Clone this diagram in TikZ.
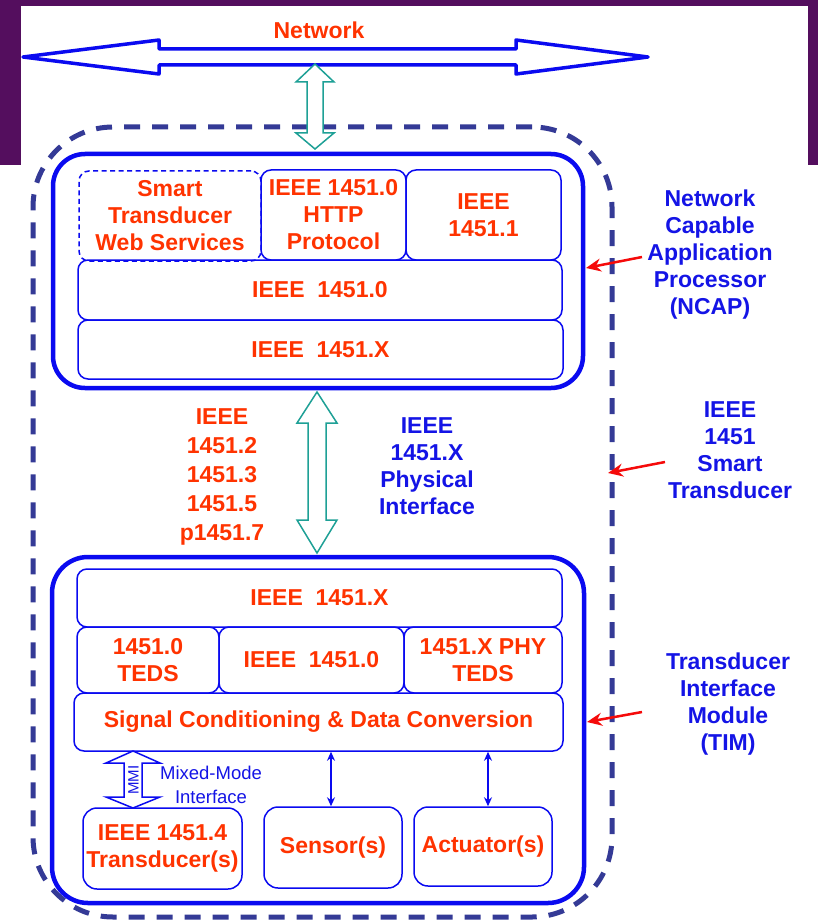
\documentclass[tikz,border=0pt]{standalone}
\usepackage{fontspec}
\setmainfont{Liberation Sans}
\usetikzlibrary{arrows.meta}
\definecolor{ored}{RGB}{255,51,0}
\definecolor{bblue}{RGB}{10,10,240}
\definecolor{tblue}{RGB}{20,20,230}
\definecolor{dblue}{RGB}{52,58,150}
\definecolor{tealc}{RGB}{30,160,150}
\definecolor{rarr}{RGB}{245,10,10}
\definecolor{purp}{RGB}{84,14,94}
\begin{document}
\begin{tikzpicture}[x=1pt,y=-1pt,
  bigfont/.style={font=\bfseries\fontsize{23}{27}\selectfont},
  lbl/.style={bigfont, text=ored, align=center, inner sep=0pt},
  blbl/.style={bigfont, text=tblue, align=center, inner sep=0pt},
  box/.style={draw=bblue, line width=1.5pt, rounded corners=10pt, inner sep=0pt,
              bigfont, text=ored, align=center},
  outerbox/.style={draw=bblue, line width=4.5pt, inner sep=0pt},
  blockarr/.style={draw=tealc, fill=white, line width=1.5pt, line join=miter},
  redarr/.style={draw=rarr, line width=2.5pt, -{Stealth[length=15pt,width=13pt,inset=5pt]}},
  thinarr/.style={draw=bblue, line width=1.8pt,
     {Stealth[length=9pt,width=8pt]}-{Stealth[length=9pt,width=8pt]}}
]
\useasboundingbox (0,0) rectangle (818,920);
% background
\fill[white] (0,0) rectangle (818,920);
\fill[purp] (0,0) rectangle (818,6);
\fill[purp] (0,0) rectangle (21,165);
\fill[purp] (808,0) rectangle (818,165);

% Network
\node[lbl] (netlbl) at (319,30) {Network};
\draw[draw=bblue, line width=3.5pt, line join=round]
  (23,57) -- (159,40) -- (159,49) -- (516,49) -- (516,40) -- (648,57)
  -- (516,74) -- (516,65) -- (159,65) -- (159,74) -- cycle;

% outer dashed smart transducer boundary
\node[draw=dblue, line width=5pt, dash pattern=on 16pt off 12pt,
      rounded corners=80pt, minimum width=579pt, minimum height=790pt, inner sep=0pt]
      (st) at (322.5,522) {};

% teal arrow network <-> NCAP
\draw[blockarr] (315,64) -- (334,82) -- (323,82) -- (323,133) -- (334,133)
  -- (315,149) -- (296,133) -- (307,133) -- (307,82) -- (296,82) -- cycle;

% NCAP
\node[outerbox, rounded corners=32pt, minimum width=530pt, minimum height=234pt]
  (ncap) at (318,271) {};
\node[box, dash pattern=on 5pt off 3.5pt, minimum width=182pt, minimum height=90pt]
  (web) at (170,216) {Smart\\Transducer\\Web Services};
\node[box, minimum width=145pt, minimum height=90pt]
  (http) at (333.5,215) {IEEE 1451.0\\HTTP\\Protocol};
\node[box, minimum width=155pt, minimum height=90pt]
  (p11) at (483.5,215) {IEEE\\1451.1};
\node[box, minimum width=484pt, minimum height=60pt]
  (n0) at (320,290) {IEEE\ \ 1451.0};
\node[box, minimum width=485pt, minimum height=59pt]
  (nx) at (320.5,349.5) {IEEE\ \ 1451.X};

% middle
\draw[blockarr] (317,392) -- (337,423) -- (326,423) -- (326,520) -- (337,520)
  -- (317,553) -- (297,520) -- (308,520) -- (308,423) -- (297,423) -- cycle;
\node[lbl, font=\bfseries\fontsize{23}{29}\selectfont] (stds) at (222,477)
  {IEEE\\1451.2\\1451.3\\1451.5\\p1451.7};
\node[blbl] (phy) at (427,466) {IEEE\\1451.X\\Physical\\Interface};

% right labels
\node[blbl] (ncaplbl) at (710,255) {Network\\Capable\\Application\\Processor\\(NCAP)};
\node[blbl] (stlbl) at (730,450) {IEEE\\1451\\Smart\\Transducer};
\node[blbl] (timlbl) at (728,704) {Transducer\\Interface\\Module\\(TIM)};

% TIM
\node[outerbox, rounded corners=36pt, minimum width=532pt, minimum height=346pt]
  (tim) at (318,730) {};
\node[box, minimum width=485pt, minimum height=58pt]
  (tx) at (319.5,598) {IEEE\ \ 1451.X};
\node[box, minimum width=142pt, minimum height=66pt]
  (teds0) at (148,660) {1451.0\\TEDS};
\node[box, minimum width=185pt, minimum height=66pt]
  (t0) at (311.5,660) {IEEE\ \ 1451.0};
\node[box, minimum width=158pt, minimum height=66pt]
  (tedsx) at (483,660) {1451.X PHY\\TEDS};
\node[box, minimum width=489pt, minimum height=58pt]
  (sig) at (318.5,722) {Signal Conditioning \& Data Conversion};
\node[box, rounded corners=14pt, minimum width=159pt, minimum height=81pt]
  (t4) at (162.5,848.5) {IEEE 1451.4\\Transducer(s)};
\node[box, rounded corners=14pt, minimum width=138pt, minimum height=81pt]
  (sens) at (333,847.5) {Sensor(s)};
\node[box, rounded corners=14pt, minimum width=138pt, minimum height=79pt]
  (act) at (483,846.5) {Actuator(s)};

% MMI block arrow
\draw[draw=bblue, fill=white, line width=1.5pt, line join=miter]
  (133,751) -- (160,763) -- (142,763) -- (142,797) -- (160,797) -- (133,808)
  -- (106,797) -- (124,797) -- (124,763) -- (106,763) -- cycle;
\node[rotate=90, text=tblue, font=\fontsize{15}{15}\selectfont, inner sep=0pt]
  (mmi) at (133.5,780) {MMI};
\node[text=tblue, font=\fontsize{18.5}{24}\selectfont, align=center, inner sep=0pt]
  (mm) at (211,785) {Mixed-Mode\\Interface};

% thin arrows
\coordinate (sx) at (331,0);
\coordinate (ax) at (488,0);
\draw[thinarr] (sig.south -| sx) -- (sens.north -| sx);
\draw[thinarr] (sig.south -| ax) -- (act.north -| ax);

% red arrows
\coordinate (r1s) at (642,257);
\coordinate (r1e) at (586,268);
\coordinate (r2s) at (665,462);
\coordinate (r2e) at (608,473);
\coordinate (r3s) at (642,712);
\coordinate (r3e) at (587,722);
\draw[redarr] (r1s) -- (r1e);
\draw[redarr] (r2s) -- (r2e);
\draw[redarr] (r3s) -- (r3e);
\end{tikzpicture}
\end{document}
